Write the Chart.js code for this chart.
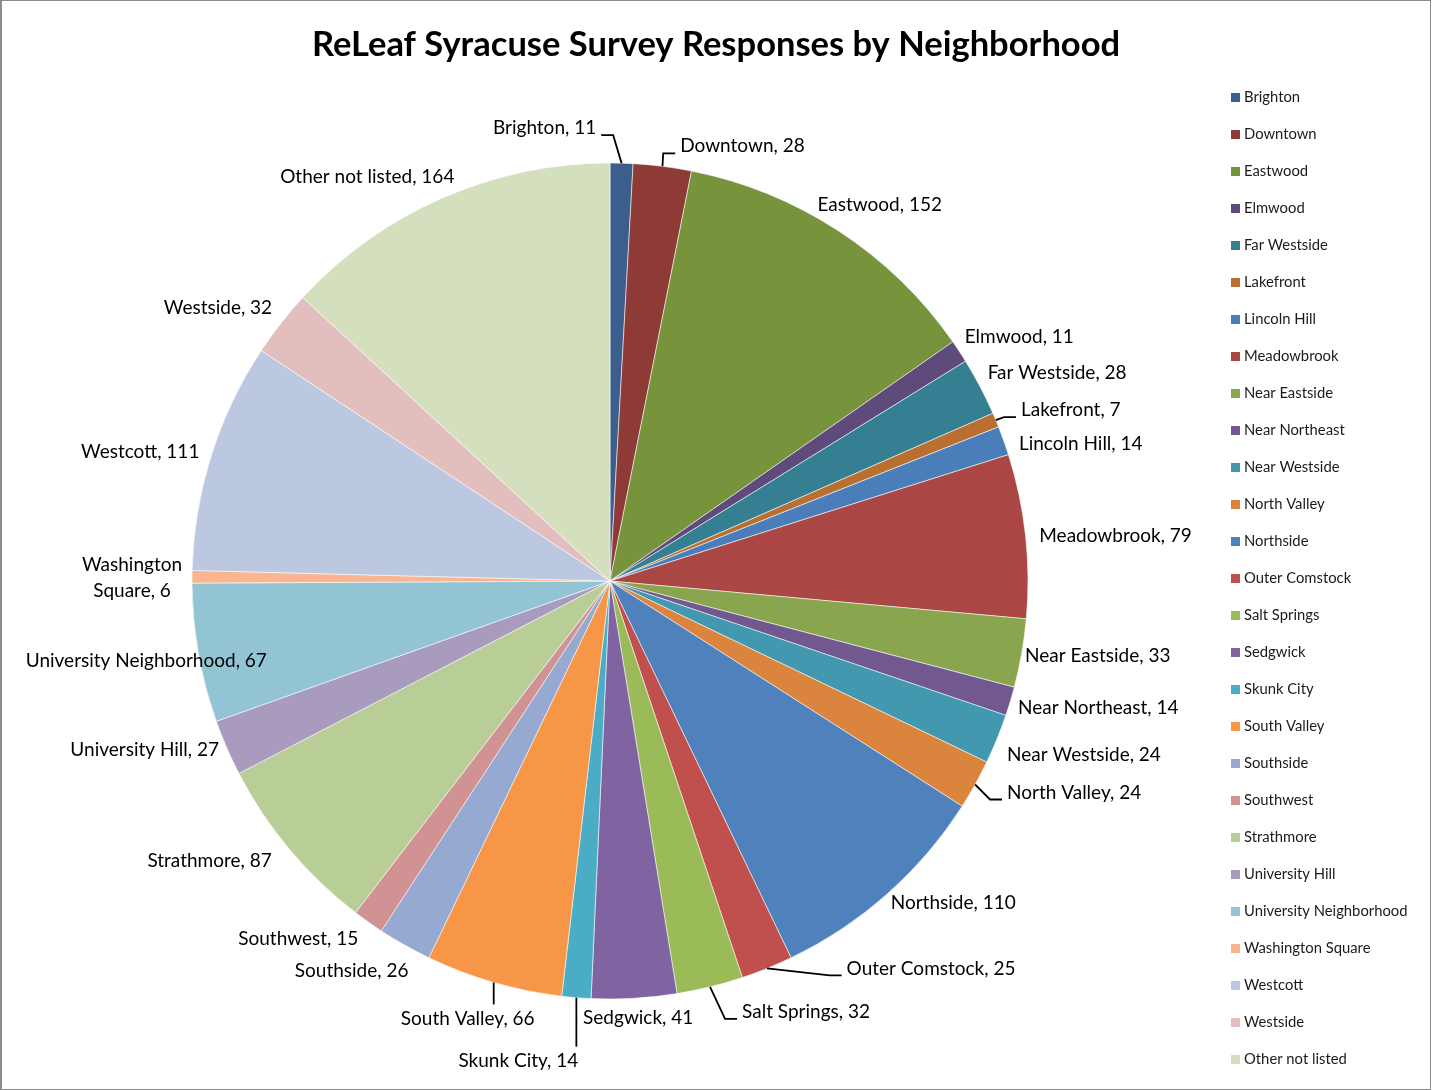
<!DOCTYPE html>
<html>
<head>
<meta charset="utf-8">
<script src="https://cdn.jsdelivr.net/npm/chart.js@4.4.1/dist/chart.umd.min.js"></script>
<style>
  html, body { margin: 0; padding: 0; background: #ffffff; }
  canvas { display: block; }
</style>
</head>
<body>
<canvas id="chart" width="1432" height="1090"></canvas>
<script>
// ---------------- data ----------------
const chartTitle = 'ReLeaf Syracuse Survey Responses by Neighborhood';

const neighborhoods = [
  'Brighton', 'Downtown', 'Eastwood', 'Elmwood', 'Far Westside', 'Lakefront',
  'Lincoln Hill', 'Meadowbrook', 'Near Eastside', 'Near Northeast', 'Near Westside',
  'North Valley', 'Northside', 'Outer Comstock', 'Salt Springs', 'Sedgwick',
  'Skunk City', 'South Valley', 'Southside', 'Southwest', 'Strathmore',
  'University Hill', 'University Neighborhood', 'Washington Square', 'Westcott',
  'Westside', 'Other not listed'
];

const responses = [
  11, 28, 152, 11, 28, 7,
  14, 79, 33, 14, 24,
  24, 110, 25, 32, 41,
  14, 66, 26, 15, 87,
  27, 67, 6, 111,
  32, 164
];

// ---------------- styles ----------------
const sliceColors = [
  '#3B5E8C', '#8E3A37', '#77933C', '#5E4A7B', '#347F92', '#B86F30',
  '#4A7EBB', '#AA4643', '#89A54E', '#71588F', '#4198AF', '#DB843D',
  '#4F81BD', '#C0504D', '#9BBB59', '#8064A2', '#4BACC6', '#F79646',
  '#95A9D1', '#D09292', '#B9CD96', '#A99BBD', '#93C4D4', '#F9B590',
  '#BCC7E0', '#E3BEBE', '#D3DFBD'
];

// label centre offsets (px) from each slice's outer mid-point
const labelOffsets = [
  [-77, -35], [80, -20], [41, -26], [60, -15], [77, -14], [75, -10],
  [77, 3], [90, 0], [76, 3], [88, 7], [87, 16], [99, 8],
  [66, 9], [164, 0], [96, 25], [4, 20], [-58, 63], [-26, 36],
  [-53, 26], [-70, 17], [-80, 11], [-82, 2], [-52, 8], [-60, 1],
  [-71, -4], [-63, -15], [-75, -21]
];
const leaderLabels = ['Brighton', 'Downtown', 'Lakefront', 'North Valley',
  'Outer Comstock', 'Salt Springs', 'Skunk City', 'South Valley'];
const wrappedLabels = ['Washington Square'];

const FONT = 'Lato, "Open Sans", "DejaVu Sans", sans-serif';

const overlayPlugin = {
  id: 'overlay',
  afterDraw(chart) {
    const ctx = chart.ctx;
    const W = chart.width, H = chart.height;
    ctx.save();

    // frame
    ctx.fillStyle = '#8c8c8c';
    ctx.fillRect(0, 0, 2, H);
    ctx.fillRect(W - 2, 0, 1, H);
    ctx.fillRect(0, 0, W - 1, 1);
    ctx.fillRect(0, H - 1, W - 1, 1);

    // title
    ctx.fillStyle = '#000000';
    ctx.font = 'bold 34.5px ' + FONT;
    ctx.textAlign = 'center';
    ctx.textBaseline = 'middle';
    ctx.fillText(chartTitle, 716, 45);

    // data labels
    const meta = chart.getDatasetMeta(0);
    const labels = chart.data.labels;
    const values = chart.data.datasets[0].data;
    ctx.font = '19px ' + FONT;
    meta.data.forEach((arc, i) => {
      const p = arc.getProps(['x', 'y', 'startAngle', 'endAngle', 'outerRadius'], true);
      const mid = (p.startAngle + p.endAngle) / 2;
      const mx = p.x + Math.cos(mid) * p.outerRadius;
      const my = p.y + Math.sin(mid) * p.outerRadius;
      const cx = mx + labelOffsets[i][0];
      const cy = my + labelOffsets[i][1];
      const full = labels[i] + ', ' + values[i];
      let lines = [full];
      if (wrappedLabels.includes(labels[i])) {
        const k = full.indexOf(' ');
        lines = [full.slice(0, k), full.slice(k + 1)];
      }
      const lh = 25.5;
      ctx.fillStyle = '#000000';
      ctx.textAlign = 'center';
      ctx.textBaseline = 'middle';
      let w = 0;
      lines.forEach((ln, j) => {
        ctx.fillText(ln, cx, cy + (j - (lines.length - 1) / 2) * lh);
        w = Math.max(w, ctx.measureText(ln).width);
      });

      if (leaderLabels.includes(labels[i])) {
        ctx.strokeStyle = '#000000';
        ctx.lineWidth = 1.8;
        ctx.lineJoin = 'miter';
        ctx.beginPath();
        const left = cx - w / 2, right = cx + w / 2;
        if (my < cy - 20 && mx > left - 8 && mx < right + 8) {
          ctx.moveTo(mx, cy - 14);
          ctx.lineTo(mx, my);
        } else if (mx <= left) {
          const sx = left - 5, yy = cy + 7;
          ctx.moveTo(sx, yy);
          ctx.lineTo(sx - 12, yy);
          ctx.lineTo(mx, my);
        } else {
          const sx = right + 5, yy = cy + 7;
          ctx.moveTo(sx, yy);
          ctx.lineTo(sx + 12, yy);
          ctx.lineTo(mx, my);
        }
        ctx.stroke();
      }
    });

    // legend
    const colors = chart.data.datasets[0].backgroundColor;
    const top = 97.5, bottom = 1059;
    const step = (bottom - top) / (labels.length - 1);
    ctx.font = '14.8px ' + FONT;
    ctx.textAlign = 'left';
    ctx.textBaseline = 'middle';
    labels.forEach((lab, i) => {
      const y = top + i * step;
      ctx.fillStyle = colors[i];
      ctx.fillRect(1231, Math.round(y - 4.5), 9, 9);
      ctx.fillStyle = '#1a1a1a';
      ctx.fillText(lab, 1244, y);
    });

    ctx.restore();
  }
};

new Chart(document.getElementById('chart'), {
  type: 'pie',
  data: {
    labels: neighborhoods,
    datasets: [{
      data: responses,
      backgroundColor: sliceColors,
      borderColor: 'rgba(255,255,255,0.55)',
      borderWidth: 1
    }]
  },
  options: {
    responsive: false,
    animation: false,
    devicePixelRatio: 1,
    radius: 418,
    layout: { padding: { left: 170, right: 382, top: 140, bottom: 68 } },
    plugins: {
      legend: { display: false },
      title: { display: false },
      tooltip: { enabled: false }
    }
  },
  plugins: [overlayPlugin]
});
</script>
</body>
</html>
